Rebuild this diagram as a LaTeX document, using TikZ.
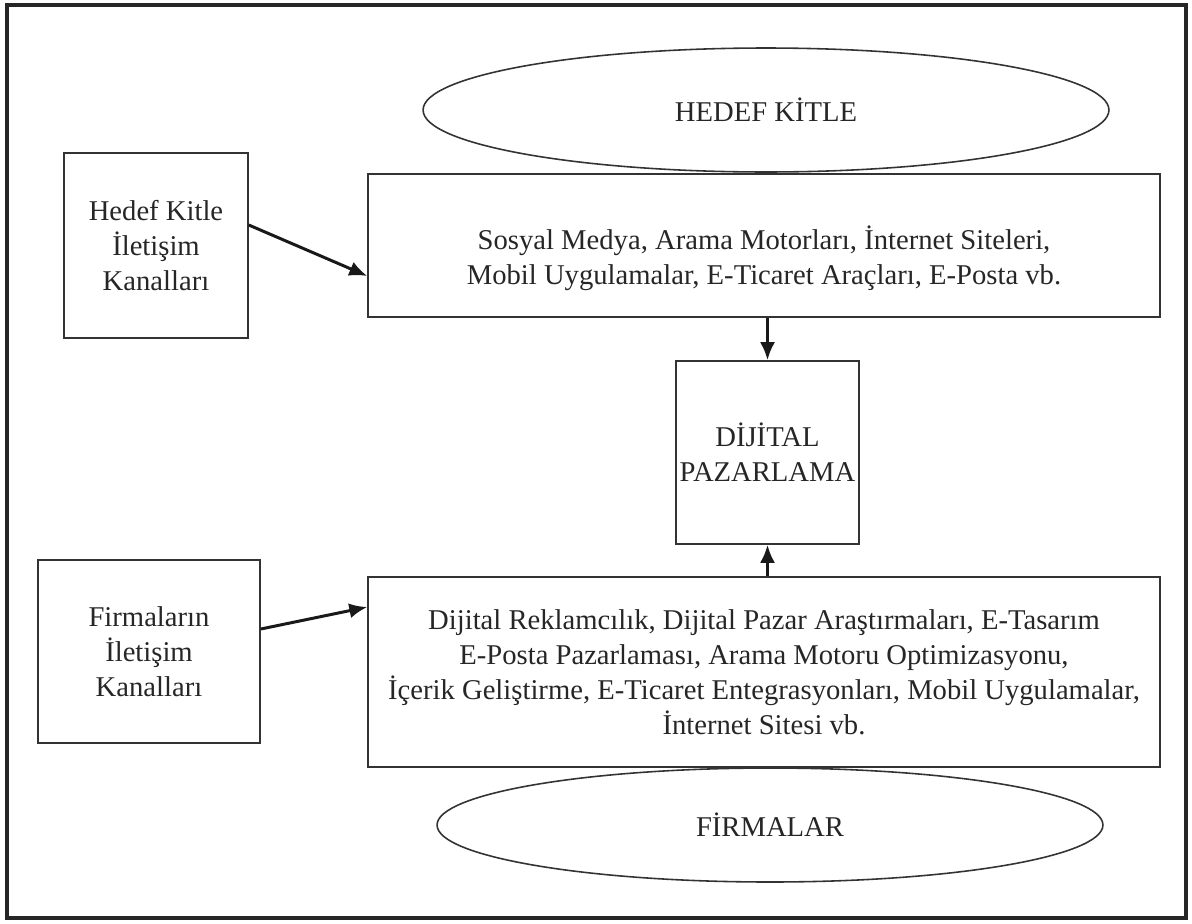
\documentclass[tikz,border=0pt]{standalone}
\usepackage{fontspec}
\setmainfont{Liberation Serif}
\usetikzlibrary{positioning, shapes.geometric, arrows.meta}

\tikzset{
  kutu/.style={draw=black!80, line width=0.9pt, align=center, inner sep=0pt,
    text=black!85, font=\fontsize{16.3}{20}\selectfont},
  elips/.style={kutu, ellipse},
  ok/.style={line width=1.7pt, black!90, -{Latex[length=0.36cm,width=0.3cm]}}
}

\begin{document}
\begin{tikzpicture}[x=0.02cm, y=-0.02cm]
    \useasboundingbox (0,0) rectangle (1192,923);
    % Draw outer frame
    \draw[line width=1.8pt, black!85] (7,5) rectangle (1186,918);

    % Draw ellipses
    \node[elips, minimum width=13.72cm, minimum height=2.48cm] (hedef) at (766,110) {HEDEF KİTLE};
    \node[elips, minimum width=13.32cm, minimum height=2.28cm] (firma) at (770,825) {FİRMALAR};

    % Draw boxes
    \node[kutu, minimum width=15.84cm, minimum height=2.86cm] (medya) at (764,245.5)
      {\rule{0pt}{1cm}Sosyal Medya, Arama Motorları, İnternet Siteleri,\\
       Mobil Uygulamalar, E-Ticaret Araçları, E-Posta vb.};
    \node[kutu, minimum width=3.68cm, minimum height=3.7cm] (hkanal) at (156,245.5)
      {Hedef Kitle\\İletişim\\Kanalları};
    \node[kutu, minimum width=3.66cm, minimum height=3.66cm] (dijital) at (767.5,452.5)
      {DİJİTAL\\PAZARLAMA};
    \node[kutu, minimum width=15.84cm, minimum height=3.8cm] (araclar) at (764,672)
      {Dijital Reklamcılık, Dijital Pazar Araştırmaları, E-Tasarım\\
       E-Posta Pazarlaması, Arama Motoru Optimizasyonu,\\
       İçerik Geliştirme, E-Ticaret Entegrasyonları, Mobil Uygulamalar,\\
       İnternet Sitesi vb.};
    \node[kutu, minimum width=4.44cm, minimum height=3.66cm] (fkanal) at (149,651.5)
      {Firmaların\\İletişim\\Kanalları};

    % Draw arrows
    \draw[ok] ([yshift=0.41cm]hkanal.east) -- ([yshift=-0.61cm]medya.west);
    \draw[ok] ([yshift=0.45cm]fkanal.east) -- ([yshift=1.3cm]araclar.west);
    \draw[ok] (dijital.north |- medya.south) -- (dijital.north);
    \draw[ok] (dijital.south |- araclar.north) -- (dijital.south);

\end{tikzpicture}
\end{document}
